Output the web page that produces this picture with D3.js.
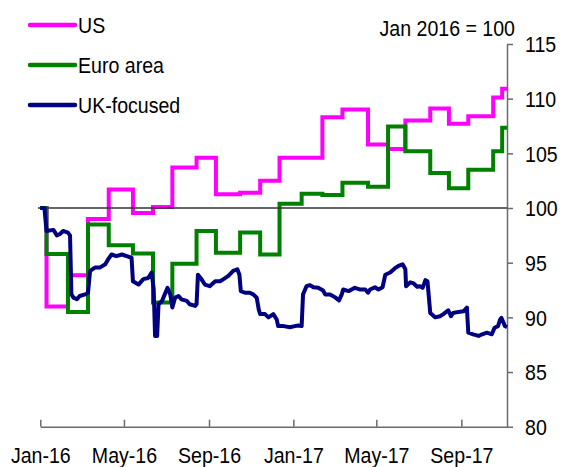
<!DOCTYPE html>
<html>
<head>
<meta charset="utf-8">
<script src="https://cdn.jsdelivr.net/npm/d3@7"></script>
<style>
    body { margin: 0; background: #fff; }
    text { font-family: "Liberation Sans", Arial, sans-serif; fill: #000; }
</style>
</head>
<body>
<script>
// Step series (US and Euro area) share the same change dates
const stepDates = ["2016-01-01", "2016-01-10", "2016-02-10", "2016-03-10", "2016-04-09", "2016-05-14",
    "2016-06-12", "2016-07-10", "2016-08-14", "2016-09-11", "2016-10-16", "2016-11-14", "2016-12-12",
    "2017-01-13", "2017-02-12", "2017-03-13", "2017-04-19", "2017-05-18", "2017-06-12", "2017-07-18",
    "2017-08-14", "2017-09-11", "2017-10-17", "2017-10-30", "2017-11-06"];
const usValues = [100, 91.0, 93.85, 99.0, 101.7, 99.55, 100.1, 103.7, 104.6, 101.25, 101.4, 102.5, 104.6,
    104.6, 108.3, 109.0, 105.8, 105.4, 108.0, 109.1, 107.7, 108.4, 110.1, 110.9, 110.9];
const euroValues = [100, 95.8, 90.5, 98.5, 96.6, 95.85, 91.35, 94.9, 97.9, 95.9, 97.75, 95.75, 100.4,
    101.3, 101.2, 102.3, 101.95, 107.45, 105.2, 103.2, 101.8, 103.5, 105.2, 107.35, 107.35];

// UK-focused (daily series)
const ukDates = ["2016-01-01", "2016-01-07", "2016-01-10", "2016-01-20", "2016-01-25", "2016-01-29",
    "2016-02-03", "2016-02-10", "2016-02-13", "2016-02-15", "2016-02-18", "2016-02-23", "2016-02-27",
    "2016-03-06", "2016-03-10", "2016-03-13", "2016-03-20", "2016-03-27", "2016-04-04", "2016-04-08",
    "2016-04-13", "2016-04-20", "2016-04-28", "2016-05-05", "2016-05-12", "2016-05-14", "2016-05-22",
    "2016-05-29", "2016-06-05", "2016-06-10", "2016-06-13", "2016-06-15", "2016-06-18", "2016-06-20",
    "2016-06-25", "2016-06-29", "2016-07-03", "2016-07-07", "2016-07-10", "2016-07-14", "2016-07-19",
    "2016-07-23", "2016-07-31", "2016-08-04", "2016-08-12", "2016-08-14", "2016-08-16", "2016-08-21",
    "2016-08-26", "2016-09-02", "2016-09-10", "2016-09-17", "2016-09-22", "2016-09-29", "2016-10-06",
    "2016-10-12", "2016-10-15", "2016-10-17", "2016-10-23", "2016-10-30", "2016-11-04", "2016-11-09",
    "2016-11-12", "2016-11-14", "2016-11-21", "2016-11-26", "2016-12-03", "2016-12-08", "2016-12-10",
    "2016-12-18", "2016-12-27", "2017-01-03", "2017-01-08", "2017-01-13", "2017-01-15", "2017-01-20",
    "2017-01-25", "2017-01-30", "2017-02-06", "2017-02-13", "2017-02-16", "2017-02-23", "2017-03-02",
    "2017-03-08", "2017-03-12", "2017-03-14", "2017-03-22", "2017-03-31", "2017-04-07", "2017-04-15",
    "2017-04-19", "2017-04-22", "2017-04-29", "2017-05-04", "2017-05-10", "2017-05-14", "2017-05-21",
    "2017-05-28", "2017-06-02", "2017-06-08", "2017-06-12", "2017-06-13", "2017-06-19", "2017-06-24",
    "2017-06-29", "2017-07-03", "2017-07-07", "2017-07-11", "2017-07-14", "2017-07-18", "2017-07-25",
    "2017-08-01", "2017-08-06", "2017-08-13", "2017-08-17", "2017-08-20", "2017-08-28", "2017-09-04",
    "2017-09-09", "2017-09-11", "2017-09-18", "2017-09-26", "2017-10-01", "2017-10-08", "2017-10-15",
    "2017-10-19", "2017-10-24", "2017-10-27", "2017-10-29", "2017-11-01", "2017-11-03", "2017-11-06"];
const ukValues = [100.0, 100.0, 97.9, 98.0, 97.5, 97.6,
    97.9, 97.75, 97.5, 92.1, 91.8, 91.65, 91.95,
    92.1, 92.25, 94.25, 94.55, 94.55, 94.85, 95.3,
    95.75, 95.6, 95.75, 95.6, 95.45, 93.3, 93.0,
    93.5, 93.6, 94.1, 92.6, 88.3, 88.3, 91.2,
    91.5, 92.1, 92.7, 92.1, 90.9, 91.8, 91.95,
    91.65, 91.5, 91.2, 91.05, 91.2, 93.9, 93.5,
    93.0, 92.85, 93.3, 93.3, 93.5, 93.8, 94.25,
    94.4, 93.9, 92.4, 92.25, 92.25, 92.1, 91.8,
    90.7, 90.3, 90.3, 90.0, 90.3, 89.8, 89.2,
    89.2, 89.1, 89.2, 89.25, 89.2, 92.1, 92.85,
    92.95, 92.75, 92.7, 92.45, 92.1, 92.1, 91.85,
    91.55, 92.1, 92.55, 92.4, 92.7, 92.55, 92.55,
    92.25, 92.55, 92.75, 92.55, 92.75, 93.9, 94.1,
    94.5, 94.7, 94.85, 94.4, 92.85, 93.2, 93.1,
    92.8, 92.85, 92.7, 93.4, 93.3, 90.4, 90.0,
    90.1, 90.3, 90.65, 90.1, 90.4, 90.5, 90.55,
    90.9, 88.6, 88.45, 88.3, 88.45, 88.6, 88.45,
    89.05, 89.2, 89.8, 89.95, 89.5, 89.2, 89.1];

const xTickDates = ["2016-01-01", "2016-05-01", "2016-09-01", "2017-01-01", "2017-05-01", "2017-09-01"];
const xTickLabels = ["Jan-16", "May-16", "Sep-16", "Jan-17", "May-17", "Sep-17"];
const yTicks = [80, 85, 90, 95, 100, 105, 110, 115];

const seriesNames = ["US", "Euro area", "UK-focused"];
const seriesColors = ["#ff00ff", "#008000", "#000080"];

const parseDate = d3.timeParse("%Y-%m-%d");

drawChart();

function squeeze(sel) {
    // text in the original is a bit narrower than the font: squash it horizontally
    sel.each(function() {
        const t = d3.select(this);
        const tx = +t.attr("x") || 0;
        const ty = +t.attr("y") || 0;
        t.attr("x", 0).attr("y", 0)
            .attr("transform", `translate(${tx},${ty}) scale(0.89,1)`);
    });
}

function drawChart() {
    const width = 561;
    const height = 467;

    const svg = d3.select("body")
        .append("svg")
        .attr("width", width)
        .attr("height", height);

    const x = d3.scaleTime()
        .domain([parseDate("2016-01-01"), parseDate("2017-11-06")])
        .range([40.3, 507]);

    const y = d3.scaleLinear()
        .domain([80, 115])
        .range([426.7, 44]);

    // x axis, ticks pointing up
    const xAxis = svg.append("g")
        .attr("transform", `translate(0,${y(80)})`)
        .call(d3.axisBottom(x)
            .tickValues(xTickDates.map(parseDate))
            .tickSizeInner(-7)
            .tickSizeOuter(0)
            .tickFormat((d, i) => xTickLabels[i]));
    xAxis.selectAll("text")
        .attr("y", 36)
        .attr("dy", 0)
        .style("font-size", "22px")
        .call(squeeze);

    // y axis on the right
    const yAxis = svg.append("g")
        .attr("transform", `translate(${x.range()[1]},0)`)
        .call(d3.axisRight(y)
            .tickValues(yTicks)
            .tickSizeInner(6)
            .tickSizeOuter(0)
            .tickPadding(12));
    yAxis.selectAll("text")
        .attr("dy", "0.35em")
        .style("font-size", "22px")
        .call(squeeze);

    svg.selectAll(".domain, .tick line")
        .attr("stroke", "#6b6b6b")
        .attr("stroke-width", 1.5);

    const stepLine = d3.line()
        .curve(d3.curveStepAfter)
        .x(d => x(d.date))
        .y(d => y(d.value));

    const usData = stepDates.map((d, i) => ({date: parseDate(d), value: usValues[i]}));
    const euroData = stepDates.map((d, i) => ({date: parseDate(d), value: euroValues[i]}));
    const ukData = ukDates.map((d, i) => ({date: parseDate(d), value: ukValues[i]}));

    svg.append("path")
        .datum(usData)
        .attr("fill", "none")
        .attr("stroke", seriesColors[0])
        .attr("stroke-width", 4)
        .attr("d", stepLine);

    svg.append("path")
        .datum(euroData)
        .attr("fill", "none")
        .attr("stroke", seriesColors[1])
        .attr("stroke-width", 4)
        .attr("d", stepLine);

    // reference line at 100
    svg.append("line")
        .attr("x1", 38)
        .attr("x2", x.range()[1])
        .attr("y1", y(100))
        .attr("y2", y(100))
        .attr("stroke", "#333")
        .attr("stroke-width", 1.3);

    svg.append("path")
        .datum(ukData)
        .attr("fill", "none")
        .attr("stroke", seriesColors[2])
        .attr("stroke-width", 4)
        .attr("stroke-linejoin", "round")
        .attr("d", d3.line().x(d => x(d.date)).y(d => y(d.value)));

    // legend
    const legend = svg.selectAll(".legend")
        .data(seriesNames)
        .enter()
        .append("g")
        .attr("class", "legend")
        .attr("transform", (d, i) => `translate(30,${25 + i * 40})`);

    legend.append("line")
        .attr("x1", 0)
        .attr("x2", 45)
        .attr("stroke", (d, i) => seriesColors[i])
        .attr("stroke-width", 4.5)
        .attr("stroke-linecap", "round");

    legend.append("text")
        .attr("x", 48)
        .attr("y", 7.5)
        .style("font-size", "22px")
        .text(d => d)
        .call(squeeze);

    svg.append("text")
        .attr("x", 515)
        .attr("y", 36)
        .attr("text-anchor", "end")
        .style("font-size", "22px")
        .text("Jan 2016 = 100")
        .call(squeeze);
}
</script>
</body>
</html>
